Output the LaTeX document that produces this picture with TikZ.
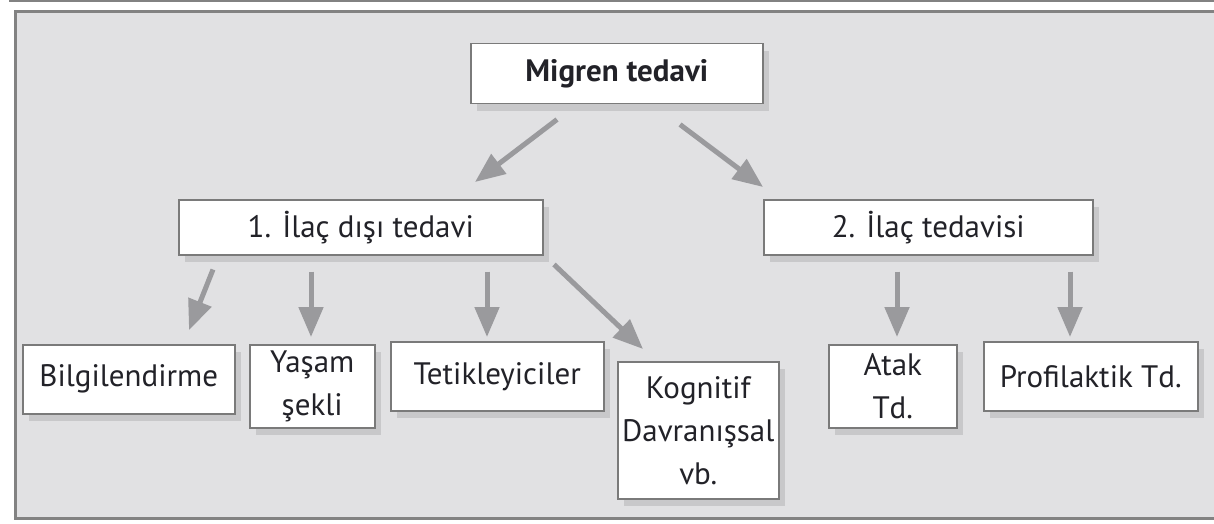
\documentclass[tikz,border=0pt]{standalone}
\usepackage{fontspec}
\setmainfont{PT Sans}
\usetikzlibrary{arrows.meta,calc}
\definecolor{panel}{HTML}{E1E1E3}
\definecolor{frame}{HTML}{828282}
\definecolor{boxline}{HTML}{7A7A7A}
\definecolor{shadowc}{HTML}{C8C8CA}
\definecolor{arrowc}{HTML}{9A9A9D}
\definecolor{txt}{HTML}{222228}
\tikzset{
  boxn/.style={draw=boxline, line width=1.5pt, fill=white, anchor=north west,
    inner sep=0pt, align=center, text=txt, font=\fontsize{31}{43}\selectfont,
    drop shadow={shadow xshift=6pt, shadow yshift=-7pt, fill=shadowc, opacity=1}},
  arr/.style={draw=arrowc, line width=5pt, -{Triangle[width=24pt,length=30pt]}}
}
\usetikzlibrary{shadows}
\begin{document}
\begin{tikzpicture}[x=1pt,y=-1pt]
\useasboundingbox (0,0) rectangle (1214,524);
% top rule and panel
\fill[frame] (9,0) rectangle (1214,2.5);
\fill[panel] (14,11) rectangle (1214,519);
\draw[frame, line width=3pt] (1214,11.5) -- (15.5,11.5) -- (15.5,518.5) -- (1214,518.5);
% nodes
\node[boxn, minimum width=292pt, minimum height=60pt, font=\fontsize{31}{43}\selectfont\bfseries] (m) at (470,43) {Migren tedavi};
\node[boxn, minimum width=364pt, minimum height=55pt] (n1) at (178,199) {1. İlaç dışı tedavi};
\node[boxn, minimum width=329pt, minimum height=55pt] (n2) at (763,199) {2. İlaç tedavisi};
\node[boxn, minimum width=212pt, minimum height=69pt] (b) at (22,344) {Bilgilendirme};
\node[boxn, minimum width=125pt, minimum height=83pt] (y) at (249,344) {Yaşam\\şekli};
\node[boxn, minimum width=213pt, minimum height=69pt] (t) at (390,341) {Tetikleyiciler};
\node[boxn, minimum width=161pt, minimum height=137pt] (k) at (617,361) {Kognitif\\Davranışsal\\vb.};
\node[boxn, minimum width=128pt, minimum height=83pt] (a) at (828,344) {Atak\\Td.};
\node[boxn, minimum width=214pt, minimum height=69pt] (p) at (983,341) {Profilaktik Td.};
% arrows
\draw[arr] ([shift={(87,15)}]m.south west) -- ([shift={(297,-17)}]n1.north west);
\draw[arr] ([shift={(210,20)}]m.south west) -- ([shift={(0,-12)}]n2.north west);
\draw[arr] ([shift={(35,14)}]n1.south west) -- ([shift={(167,-14)}]b.north west);
\draw[arr] ([shift={(133,16)}]n1.south west) -- ([shift={(62,-7)}]y.north west);
\draw[arr] ([shift={(309,16)}]n1.south west) -- ([shift={(97,-4)}]t.north west);
\draw[arr] ([shift={(376,9)}]n1.south west) -- ([shift={(26,-12)}]k.north west);
\draw[arr] ([shift={(134,16)}]n2.south west) -- ([shift={(69,-7)}]a.north west);
\draw[arr] ([shift={(307,16)}]n2.south west) -- ([shift={(87,-4)}]p.north west);
\end{tikzpicture}
\end{document}
